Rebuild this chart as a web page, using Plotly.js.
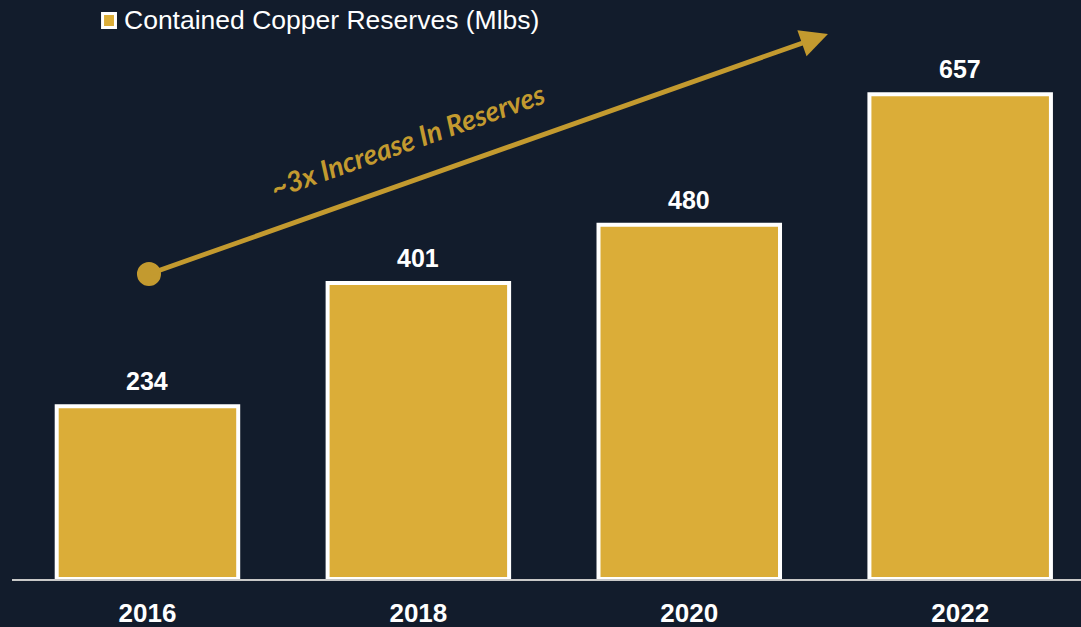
<!DOCTYPE html>
<html>
<head>
<meta charset="utf-8">
<script src="https://cdn.plot.ly/plotly-3.0.1.min.js"></script>
<style>html,body{margin:0;padding:0;background:#121c2c;}#chart{width:1081px;height:627px;}</style>
</head>
<body>
<div id="chart"></div>
<script>
const years = ['2016', '2018', '2020', '2022'];
const reserves = [234, 401, 480, 657];
const seriesName = 'Contained Copper Reserves (Mlbs)';
const arrowLabel = '~3x Increase In Reserves';

const gold = '#dbad38';
const arrowGold = '#c39a2f';
const bg = '#121c2c';
const sans = 'Liberation Sans, Arial, sans-serif';

const trace = {
  type: 'bar',
  x: years,
  y: reserves,
  name: seriesName,
  marker: {color: gold, line: {color: '#ffffff', width: 4}},
  showlegend: false,
  hoverinfo: 'skip'
};

const valueAnnotations = years.map((yr, i) => ({
  x: i, y: reserves[i], xref: 'x', yref: 'y',
  text: '<b>' + String(reserves[i]) + '</b>', showarrow: false,
  xanchor: 'center', yanchor: 'middle', yshift: 25,
  font: {family: sans, size: 25, color: '#ffffff'}
}));

const layout = {
  width: 1081, height: 627,
  paper_bgcolor: bg, plot_bgcolor: bg,
  margin: {l: 12, r: 0, t: 30, b: 48},
  bargap: 0.33,
  xaxis: {
    type: 'category', range: [-0.5, 3.446],
    showline: true, linecolor: '#c8c8c8', linewidth: 2,
    showgrid: false, zeroline: false, ticks: '',
    ticklabelstandoff: 10,
    tickfont: {family: sans, size: 26, color: '#ffffff', weight: 'bold'}
  },
  yaxis: {range: [0, 744], visible: false, showgrid: false, zeroline: false},
  showlegend: false,
  shapes: [
    {
      type: 'circle', xref: 'paper', yref: 'paper',
      x0: 0.1169, x1: 0.1394, y0: 0.5337, y1: 0.5774,
      fillcolor: arrowGold, line: {width: 0}
    },
    {
      type: 'rect', xref: 'paper', yref: 'paper',
      x0: 0.0847, x1: 0.0968, y0: 1.0046, y1: 1.0301,
      fillcolor: gold, line: {color: '#ffffff', width: 3}
    }
  ],
  annotations: valueAnnotations.concat([
    {
      xref: 'paper', yref: 'paper', x: 0.1030, y: 1.0190,
      xanchor: 'left', yanchor: 'middle',
      text: seriesName, showarrow: false,
      font: {family: sans, size: 26.5, color: '#ffffff'}
    },
    {
      xref: 'paper', yref: 'paper', x: 0.7633, y: 0.9927,
      ax: -679, ay: 240, axref: 'pixel', ayref: 'pixel',
      text: '', showarrow: true, arrowhead: 2, arrowsize: 1.15, arrowwidth: 4.8,
      arrowcolor: arrowGold
    },
    {
      xref: 'paper', yref: 'paper', x: 0.3704, y: 0.7996,
      xanchor: 'center', yanchor: 'middle',
      text: '<b><i>' + arrowLabel + '</i></b>', showarrow: false,
      textangle: -19.5,
      font: {family: 'Lato, Open Sans, sans-serif', size: 28, color: arrowGold}
    }
  ])
};

Plotly.newPlot('chart', [trace], layout, {displayModeBar: false, staticPlot: true});
</script>
</body>
</html>
